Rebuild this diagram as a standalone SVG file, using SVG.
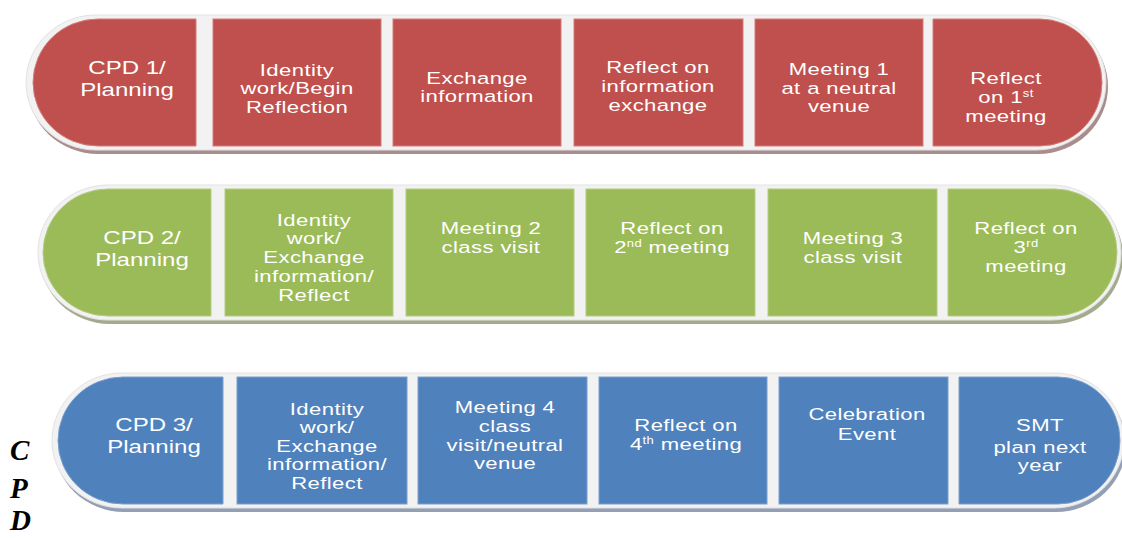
<svg xmlns="http://www.w3.org/2000/svg" width="1122" height="538" viewBox="0 0 1122 538">
<style>
.band{fill:#f2f2f2;stroke:#e2e2e2;stroke-width:1}
.red{fill:#c0504d;stroke:#d27d7a;stroke-width:1}
.green{fill:#9bbb59;stroke:#b3cc80;stroke-width:1}
.blue{fill:#4f81bd;stroke:#7c9fcc;stroke-width:1}
.t{font-family:"Liberation Sans",Arial,sans-serif;font-size:17px;fill:#ffffff;text-anchor:middle;letter-spacing:0.3px}
.big{font-size:18.5px;letter-spacing:0}
.sup{font-size:10px}
.side{font-family:"Liberation Serif","Times New Roman",serif;font-size:29px;font-weight:bold;font-style:italic;fill:#000}
</style>
<rect width="1122" height="538" fill="#ffffff"/>

<!-- Row 1 -->
<g id="row1">
<path d="M98 19 H1038 A70 67.5 0 0 1 1038 154 H98 A70 67.5 0 0 1 98 19 Z" fill="#a98c8c"/>
<path class="band" d="M96 15 H1036 A70 67.5 0 0 1 1036 150 H96 A70 67.5 0 0 1 96 15 Z"/>
</g>
<g id="r1c1"><path class="red" d="M196 19 V146 H98 A65 63.5 0 0 1 98 19 Z"/>
<g transform="translate(127,0) scale(1.3,1)"><text class="t big"><tspan x="0" y="74">CPD 1/</tspan><tspan x="0" y="96">Planning</tspan></text></g></g>
<g id="r1c2"><rect class="red" x="213" y="19" width="168" height="127"/>
<g transform="translate(297,0) scale(1.3,1)"><text class="t"><tspan x="0" y="76">Identity</tspan><tspan x="0" y="94.5">work/Begin</tspan><tspan x="0" y="113">Reflection</tspan></text></g></g>
<g id="r1c3"><rect class="red" x="393" y="19" width="168" height="127"/>
<g transform="translate(477,0) scale(1.3,1)"><text class="t"><tspan x="0" y="84">Exchange</tspan><tspan x="0" y="102.5">information</tspan></text></g></g>
<g id="r1c4"><rect class="red" x="574" y="19" width="169" height="127"/>
<g transform="translate(658,0) scale(1.3,1)"><text class="t"><tspan x="0" y="73.5">Reflect on</tspan><tspan x="0" y="92.5">information</tspan><tspan x="0" y="111.5">exchange</tspan></text></g></g>
<g id="r1c5"><rect class="red" x="755" y="19" width="168" height="127"/>
<g transform="translate(839,0) scale(1.3,1)"><text class="t"><tspan x="0" y="75">Meeting 1</tspan><tspan x="0" y="94">at a neutral</tspan><tspan x="0" y="112.5">venue</tspan></text></g></g>
<g id="r1c6"><path class="red" d="M933 19 H1040 A62 63.5 0 0 1 1040 146 H933 Z"/>
<g transform="translate(1006,0) scale(1.3,1)"><text class="t"><tspan x="0" y="84">Reflect</tspan><tspan x="0" y="103">on 1<tspan class="sup" dy="-6">st</tspan></tspan><tspan x="0" y="122">meeting</tspan></text></g></g>

<!-- Row 2 -->
<g id="row2">
<path d="M110 189 H1053 A70 67.5 0 0 1 1053 324 H110 A70 67.5 0 0 1 110 189 Z" fill="#a4ab8c"/>
<path class="band" d="M108 185 H1051 A70 67.5 0 0 1 1051 320 H108 A70 67.5 0 0 1 108 185 Z"/>
</g>
<g id="r2c1"><path class="green" d="M211 189 V316 H108 A65 63.5 0 0 1 108 189 Z"/>
<g transform="translate(142,0) scale(1.3,1)"><text class="t big"><tspan x="0" y="244">CPD 2/</tspan><tspan x="0" y="266">Planning</tspan></text></g></g>
<g id="r2c2"><rect class="green" x="225" y="189" width="168" height="127"/>
<g transform="translate(314,0) scale(1.3,1)"><text class="t"><tspan x="0" y="226">Identity</tspan><tspan x="0" y="244.5">work/</tspan><tspan x="0" y="263">Exchange</tspan><tspan x="0" y="282">information/</tspan><tspan x="0" y="301">Reflect</tspan></text></g></g>
<g id="r2c3"><rect class="green" x="406" y="189" width="168" height="127"/>
<g transform="translate(491,0) scale(1.3,1)"><text class="t"><tspan x="0" y="234.5">Meeting 2</tspan><tspan x="0" y="253">class visit</tspan></text></g></g>
<g id="r2c4"><rect class="green" x="586" y="189" width="169" height="127"/>
<g transform="translate(672,0) scale(1.3,1)"><text class="t"><tspan x="0" y="234">Reflect on</tspan><tspan x="0" y="253">2<tspan class="sup" dy="-6">nd</tspan><tspan dy="6"> meeting</tspan></tspan></text></g></g>
<g id="r2c5"><rect class="green" x="768" y="189" width="169" height="127"/>
<g transform="translate(853,0) scale(1.3,1)"><text class="t"><tspan x="0" y="244.5">Meeting 3</tspan><tspan x="0" y="263">class visit</tspan></text></g></g>
<g id="r2c6"><path class="green" d="M948 189 H1055 A62 63.5 0 0 1 1055 316 H948 Z"/>
<g transform="translate(1026,0) scale(1.3,1)"><text class="t"><tspan x="0" y="234">Reflect on</tspan><tspan x="0" y="253">3<tspan class="sup" dy="-6">rd</tspan></tspan><tspan x="0" y="272">meeting</tspan></text></g></g>

<!-- Row 3 -->
<g id="row3">
<path d="M124 377 H1056 A70 67.5 0 0 1 1056 512 H124 A70 67.5 0 0 1 124 377 Z" fill="#929fb4"/>
<path class="band" d="M122 373 H1054 A70 67.5 0 0 1 1054 508 H122 A70 67.5 0 0 1 122 373 Z"/>
</g>
<g id="r3c1"><path class="blue" d="M223 377 V504 H123 A65 63.5 0 0 1 123 377 Z"/>
<g transform="translate(154,0) scale(1.3,1)"><text class="t big"><tspan x="0" y="431.5">CPD 3/</tspan><tspan x="0" y="453.5">Planning</tspan></text></g></g>
<g id="r3c2"><rect class="blue" x="237" y="377" width="170" height="127"/>
<g transform="translate(327,0) scale(1.3,1)"><text class="t"><tspan x="0" y="415">Identity</tspan><tspan x="0" y="433.5">work/</tspan><tspan x="0" y="452">Exchange</tspan><tspan x="0" y="470.5">information/</tspan><tspan x="0" y="489.5">Reflect</tspan></text></g></g>
<g id="r3c3"><rect class="blue" x="418" y="377" width="169" height="127"/>
<g transform="translate(505,0) scale(1.3,1)"><text class="t"><tspan x="0" y="413.5">Meeting 4</tspan><tspan x="0" y="432">class</tspan><tspan x="0" y="451.5">visit/neutral</tspan><tspan x="0" y="469">venue</tspan></text></g></g>
<g id="r3c4"><rect class="blue" x="599" y="377" width="168" height="127"/>
<g transform="translate(686,0) scale(1.3,1)"><text class="t"><tspan x="0" y="431.5">Reflect on</tspan><tspan x="0" y="450.5">4<tspan class="sup" dy="-6">th</tspan><tspan dy="6"> meeting</tspan></tspan></text></g></g>
<g id="r3c5"><rect class="blue" x="779" y="377" width="169" height="127"/>
<g transform="translate(867,0) scale(1.3,1)"><text class="t"><tspan x="0" y="420.5">Celebration</tspan><tspan x="0" y="440">Event</tspan></text></g></g>
<g id="r3c6"><path class="blue" d="M959 377 H1058 A62 63.5 0 0 1 1058 504 H959 Z"/>
<g transform="translate(1040,0) scale(1.3,1)"><text class="t"><tspan x="0" y="431.5">SMT</tspan><tspan x="0" y="453">plan next</tspan><tspan x="0" y="471.5">year</tspan></text></g></g>

<g id="connectors"></g>

<g id="side-label">
<text class="side" x="10" y="460">C</text>
<text class="side" x="10" y="498">P</text>
<text class="side" x="10" y="530">D</text>
</g>
</svg>
